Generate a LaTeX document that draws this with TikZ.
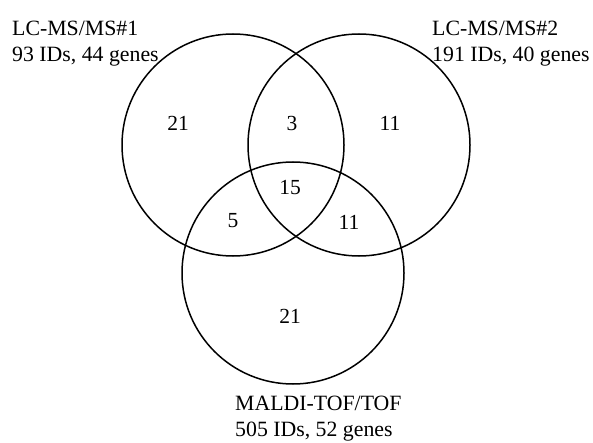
\documentclass[tikz,border=0pt]{standalone}
\usepackage{fontspec}
\setmainfont{Liberation Serif}
\begin{document}
\begin{tikzpicture}[x=1pt,y=-1pt,
  set/.style={draw=black,line width=1.5pt},
  lbl/.style={font=\fontsize{21.8}{26}\selectfont,align=left,inner sep=0pt,anchor=north west},
  num/.style={font=\fontsize{21.5}{26}\selectfont,inner sep=0pt}]
\useasboundingbox (0,0) rectangle (593,443);
\draw[set] (233,145) circle[radius=111];
\draw[set] (359,145) circle[radius=111];
\draw[set] (293,273) circle[radius=111];
\node[lbl] (l1) at (12,20.5) {LC-MS/MS\#1\\93 IDs, 44 genes};
\node[lbl] (l2) at (432,20.5) {LC-MS/MS\#2\\191 IDs, 40 genes};
\node[lbl] (l3) at (235,396) {MALDI-TOF/TOF\\505 IDs, 52 genes};
\node[num] (a) at (178,123) {21};
\node[num] (ab) at (292,123) {3};
\node[num] (b) at (390,123) {11};
\node[num] (abc) at (290,188) {15};
\node[num] (ac) at (233,221) {5};
\node[num] (bc) at (349,222) {11};
\node[num] (c) at (290,316) {21};
\end{tikzpicture}
\end{document}
